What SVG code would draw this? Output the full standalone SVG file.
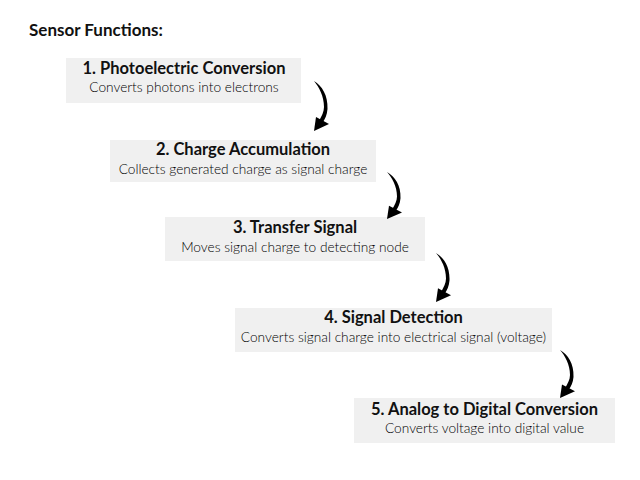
<svg xmlns="http://www.w3.org/2000/svg" xmlns:xlink="http://www.w3.org/1999/xlink" width="640" height="480" viewBox="0 0 640 480">
<style>
.box{fill:#f0f0f0;}
.t{font-family:Lato,"Open Sans",sans-serif;font-weight:bold;font-size:16.5px;fill:#111;text-anchor:middle;}
.s{font-family:Lato,"Open Sans",sans-serif;font-weight:300;font-size:13.7px;fill:#000;text-anchor:middle;}
.h{font-family:Lato,"Open Sans",sans-serif;font-weight:bold;font-size:17px;fill:#111;}
.arr{fill:#000;}
</style>
<defs>
<g id="swoosh">
<path class="arr" d="M0,0 C8,5 14,14 13.5,28 C13,34 11,38 9,41 L5.5,39 C7.5,35 10,31 10,26 C10,15 5,6 0,0 Z"/>
<path class="arr" d="M0,50 L2,36 L15,43 Z"/>
</g>
</defs>
<rect width="640" height="480" fill="#fff"/>
<text class="h" x="29" y="36">Sensor Functions:</text>
<g id="node1">
<rect class="box" x="66" y="58" width="235" height="45"/>
<text class="t" x="184" y="74">1. Photoelectric Conversion</text>
<text class="s" x="184" y="92">Converts photons into electrons</text>
</g>
<g id="node2">
<rect class="box" x="110" y="140" width="266" height="42"/>
<text class="t" x="243" y="155">2. Charge Accumulation</text>
<text class="s" x="243" y="174">Collects generated charge as signal charge</text>
</g>
<g id="node3">
<rect class="box" x="165" y="217" width="260" height="44"/>
<text class="t" x="295" y="233">3. Transfer Signal</text>
<text class="s" x="295" y="252">Moves signal charge to detecting node</text>
</g>
<g id="node4">
<rect class="box" x="235" y="308" width="317" height="44"/>
<text class="t" x="393.5" y="323">4. Signal Detection</text>
<text class="s" x="393.5" y="342">Converts signal charge into electrical signal (voltage)</text>
</g>
<g id="node5">
<rect class="box" x="354" y="398" width="261" height="45"/>
<text class="t" x="484.5" y="415">5. Analog to Digital Conversion</text>
<text class="s" x="484.5" y="433">Converts voltage into digital value</text>
</g>
<g id="connectors">
<use xlink:href="#swoosh" transform="translate(314,81)"/>
<use xlink:href="#swoosh" transform="translate(387,172) scale(1,0.94)"/>
<use xlink:href="#swoosh" transform="translate(436,253) scale(1,0.98)"/>
<use xlink:href="#swoosh" transform="translate(560,350) scale(1,0.96)"/>
</g>
</svg>
